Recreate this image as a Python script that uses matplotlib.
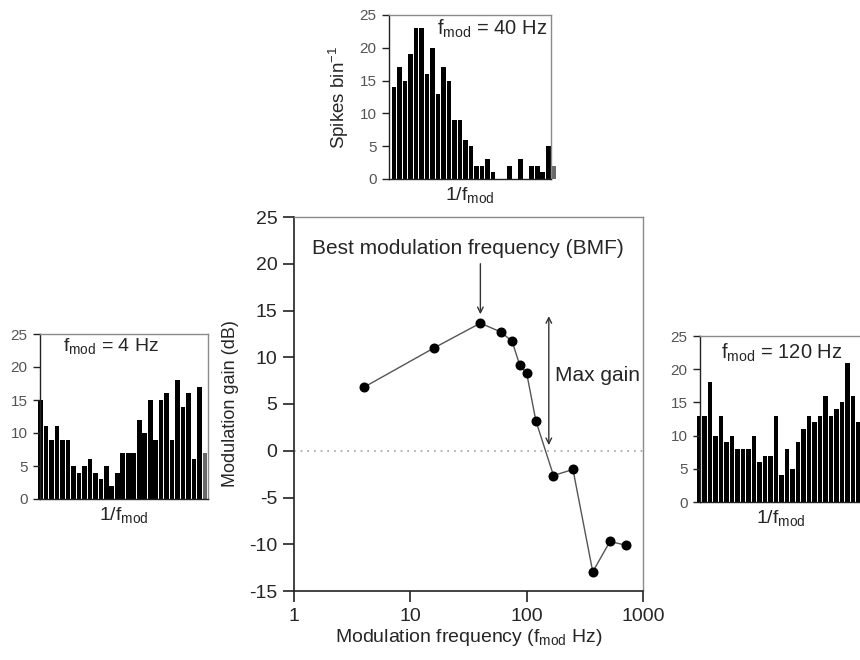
import matplotlib
matplotlib.use("Agg")
import matplotlib.pyplot as plt
from matplotlib.ticker import FixedLocator, NullLocator, FixedFormatter

plt.rcParams["font.family"] = ["Liberation Sans", "DejaVu Sans"]
plt.rcParams["axes.unicode_minus"] = False

# Modulation transfer function
freq_hz = [4, 16, 40, 60, 75, 87, 100, 120, 170, 250, 370, 520, 710]
gain_db = [6.8, 11.0, 13.65, 12.7, 11.7, 9.2, 8.3, 3.2, -2.65, -2.0, -12.95, -9.7, -10.1]

# Period histograms (spikes per bin over one modulation cycle)
spikes_4hz = [15, 11, 9, 11, 9, 9, 5, 4, 5, 6, 4, 3, 5, 2, 4, 7, 7, 7, 12, 10,
              15, 9, 15, 16, 9, 18, 14, 16, 6, 17, 7]
spikes_40hz = [14, 17, 15, 19, 23, 23, 16, 20, 13, 17, 15, 9, 9, 6, 5, 2, 2, 3, 1, 0,
               0, 2, 0, 3, 0, 2, 2, 1, 5, 2]
spikes_120hz = [13, 13, 18, 10, 13, 9, 10, 8, 8, 8, 10, 6, 7, 7, 13, 4, 8, 5, 9, 11,
                13, 12, 13, 16, 13, 14, 15, 21, 16, 12]

main_yticks = [-15, -10, -5, 0, 5, 10, 15, 20, 25]
main_xticks = [1, 10, 100, 1000]
hist_yticks = [0, 5, 10, 15, 20, 25]

W, H = 860, 660
fig = plt.figure(figsize=(W / 100, H / 100), dpi=100)


def px_axes(left, top, right, bottom):
    return fig.add_axes([left / W, 1 - bottom / H, (right - left) / W, (bottom - top) / H])


DARK = "#222222"
TXT = "#262626"
LIGHT = "#8a8a8a"


def style_frame(ax, lw_main=1.2):
    ax.spines["left"].set_color(DARK)
    ax.spines["bottom"].set_color(DARK)
    ax.spines["left"].set_linewidth(lw_main)
    ax.spines["bottom"].set_linewidth(lw_main)
    for s in ("top", "right"):
        ax.spines[s].set_color(LIGHT)
        ax.spines[s].set_linewidth(1.0)


# ---- main modulation transfer function ----
ax = px_axes(294, 217, 643, 591)
ax.set_xscale("log")
ax.set_xlim(1, 1000)
ax.set_ylim(-15, 25)
ax.axhline(0, color="#a0a0a0", lw=1.2, ls=(0, (1, 3)), zorder=1)
ax.plot(freq_hz, gain_db, color="#555555", lw=1.0, marker="o", ms=6.2,
        mfc="black", mec="black", zorder=3)
ax.xaxis.set_major_locator(FixedLocator(main_xticks))
ax.xaxis.set_major_formatter(FixedFormatter([str(v) for v in main_xticks]))
ax.xaxis.set_minor_locator(NullLocator())
ax.set_yticks(main_yticks)
ax.tick_params(axis="both", direction="out", length=8, width=1.2, color=DARK,
               labelsize=14, labelcolor=TXT, pad=4)
style_frame(ax)
ax.set_xlabel(r"Modulation frequency ($\mathregular{f_{mod}}$ Hz)", fontsize=14,
              color=TXT, labelpad=2)
ax.set_ylabel("Modulation gain (dB)", fontsize=13, color=TXT, labelpad=7)

ax.text(31, 21.6, "Best modulation frequency (BMF)", ha="center", va="center",
        fontsize=15, color=TXT)
ax.annotate("", xy=(40, 14.6), xytext=(40, 20.0),
            arrowprops=dict(arrowstyle="->", color="#333333", lw=1.0,
                            shrinkA=0, shrinkB=0))
ax.annotate("", xy=(155, 0.6), xytext=(155, 14.4),
            arrowprops=dict(arrowstyle="<->", color="#333333", lw=1.0,
                            shrinkA=0, shrinkB=0))
ax.text(174, 8.0, "Max gain", ha="left", va="center", fontsize=15, color=TXT)


# ---- period histograms ----
def histogram(box, counts, xlim, label, label_xy, label_size, ylabel=None,
              gray_last=False):
    hx = px_axes(*box)
    idx = list(range(len(counts)))
    colors = ["black"] * len(counts)
    if gray_last:
        colors[-1] = "#6a6a6a"
    bars = hx.bar(idx, counts, width=0.85, color=colors, linewidth=0)
    for b in bars:
        b.set_clip_on(False)
    hx.set_xlim(*xlim)
    hx.set_ylim(0, 25)
    hx.set_yticks(hist_yticks)
    hx.set_xticks([])
    hx.tick_params(axis="y", direction="out", length=5, width=1.0, color=DARK,
                   labelsize=11, labelcolor="#555555", pad=4)
    style_frame(hx, lw_main=1.0)
    hx.set_xlabel(r"1/$\mathregular{f_{mod}}$", fontsize=14, color=TXT, labelpad=4)
    if ylabel:
        hx.set_ylabel(ylabel, fontsize=13.5, color=TXT, labelpad=6)
    hx.text(label_xy[0], label_xy[1], label, transform=hx.transAxes,
            ha=label_xy[2], va="center", fontsize=label_size, color=TXT)
    return hx


histogram((389, 15, 551, 179), spikes_40hz, (-0.9, 28.5),
          r"$\mathregular{f_{mod}}$ = 40 Hz", (0.98, 0.915, "right"), 14.5,
          ylabel=r"Spikes bin$\mathregular{^{-1}}$", gray_last=True)
histogram((40, 334, 208, 499), spikes_4hz, (-0.1, 30.55),
          r"$\mathregular{f_{mod}}$ = 4 Hz", (0.135, 0.93, "left"), 14,
          gray_last=True)
histogram((700, 336, 862, 502), spikes_120hz, (0.2, 29.65),
          r"$\mathregular{f_{mod}}$ = 120 Hz", (0.13, 0.90, "left"), 14.5)

fig.savefig("out.png", dpi=100, facecolor="white")
